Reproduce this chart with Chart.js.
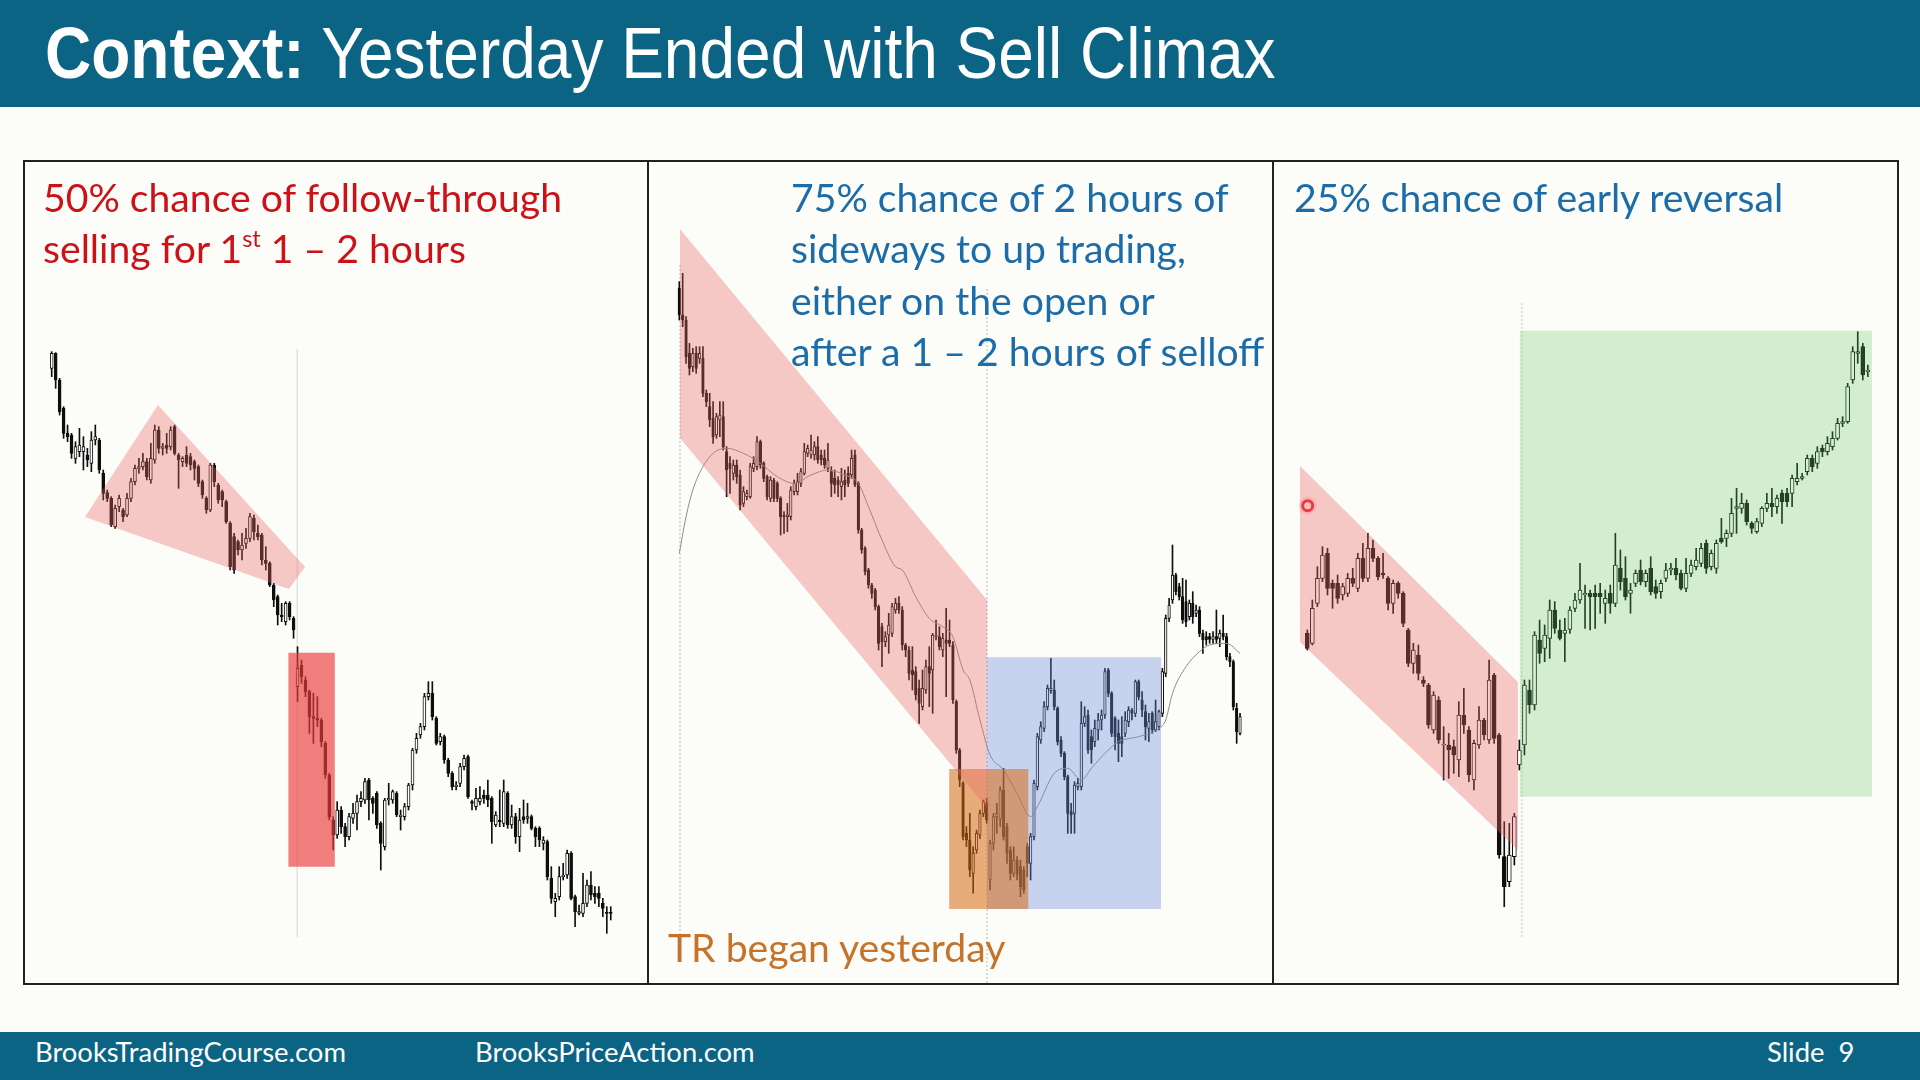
<!DOCTYPE html>
<html>
<head>
<meta charset="utf-8">
<script src="https://cdn.jsdelivr.net/npm/chart.js@4.4.1/dist/chart.umd.min.js"></script>
<style>
  html, body { margin:0; padding:0; }
  body { width:1920px; height:1080px; overflow:hidden; background:#fcfdf9; position:relative; }
  .band { position:absolute; left:0; width:1920px; background:#0c6485; }
  .txt { position:absolute; left:0; top:0; white-space:nowrap; transform-origin:0 0; line-height:1.2; }
  .title { font-family:'Liberation Sans', Arial, sans-serif; font-size:72px; color:#ffffff; }
  .body { font-family:Lato, 'Open Sans', sans-serif; font-size:39px; }
  .foot { font-family:Lato, 'Open Sans', sans-serif; font-size:26px; color:#ffffff; }
  .red { color:#cc1117; }
  .blue { color:#1b6ca8; }
  .orange { color:#c5732a; }
  .sup { font-size:0.6em; vertical-align:0.7em; }
  #frame { position:absolute; left:23px; top:160px; width:1876px; height:825px; box-sizing:border-box; border:2px solid #222; }
  .sep { position:absolute; top:160px; width:2px; height:825px; background:#222; }
  canvas { position:absolute; }
</style>
</head>
<body>
<div class="band" style="top:0;height:107px"></div>
<div class="band" style="top:1032px;height:48px"></div>
<div id="frame"></div>
<div class="sep" style="left:647px"></div>
<div class="sep" style="left:1272px"></div>
<canvas id="c1" width="622" height="821" style="left:25px;top:162px"></canvas>
<canvas id="c2" width="623" height="821" style="left:649px;top:162px"></canvas>
<canvas id="c3" width="623" height="821" style="left:1274px;top:162px"></canvas>

<div class="txt title" data-x="45" data-b="78" data-ref="1231"><b>Context:</b> Yesterday Ended with Sell Climax</div>

<div class="txt body red" data-x="43" data-b="212" data-ref="519">50% chance of follow-through</div>
<div class="txt body red" data-x="43" data-b="263">selling for 1<span class="sup">st</span> 1 – 2 hours</div>

<div class="txt body blue" data-x="791" data-b="212">75% chance of 2 hours of</div>
<div class="txt body blue" data-x="791" data-b="263">sideways to up trading,</div>
<div class="txt body blue" data-x="791" data-b="315">either on the open or</div>
<div class="txt body blue" data-x="791" data-b="366">after a 1 – 2 hours of selloff</div>

<div class="txt body blue" data-x="1294" data-b="212">25% chance of early reversal</div>

<div class="txt body orange" data-x="668" data-b="962">TR began yesterday</div>

<div class="txt foot" data-x="35" data-b="1062" data-ref="311">BrooksTradingCourse.com</div>
<div class="txt foot" data-x="475" data-b="1062">BrooksPriceAction.com</div>
<div class="txt foot" data-x="1767" data-b="1062">Slide&nbsp;&nbsp;9</div>

<script>
// ---------------- DATA (price units, bars indexed 0..n-1) ----------------
// Panel 1: [open, high, low, close]
const p1Ohlc = [
[2135,2185,2110,2180],[2180,2182,2075,2100],[2100,2105,1995,2005],[2015,2020,1925,1940],[1940,1965,1915,1930],
[1935,1940,1865,1880],[1865,1915,1850,1900],[1885,1955,1870,1905],[1885,1930,1830,1900],[1875,1895,1840,1860],
[1850,1945,1825,1920],[1920,1965,1905,1930],[1920,1925,1820,1830],[1820,1830,1740,1760],[1762,1770,1735,1745],
[1745,1750,1660,1665],[1660,1725,1655,1715],[1720,1755,1705,1745],[1710,1715,1675,1690],[1695,1760,1690,1745],
[1745,1805,1735,1795],[1795,1845,1785,1835],[1835,1865,1820,1840],[1840,1880,1830,1855],[1855,1865,1800,1810],
[1800,1910,1790,1865],[1860,1965,1850,1950],[1950,1960,1880,1895],[1895,1910,1875,1900],[1905,1940,1880,1895],
[1900,1960,1890,1950],[1960,1965,1875,1880],[1875,1880,1775,1860],[1855,1870,1840,1865],[1875,1900,1840,1850],
[1870,1880,1830,1845],[1855,1860,1800,1835],[1840,1845,1780,1790],[1795,1800,1745,1755],[1745,1750,1700,1710],
[1710,1850,1705,1845],[1845,1850,1780,1795],[1785,1790,1730,1740],[1765,1770,1720,1740],[1735,1740,1670,1675],
[1670,1675,1530,1540],[1630,1640,1520,1530],[1615,1620,1575,1590],[1590,1640,1560,1605],[1610,1655,1595,1625],
[1625,1700,1615,1690],[1685,1695,1620,1645],[1640,1665,1620,1630],[1635,1640,1545,1560],[1560,1600,1530,1550],
[1550,1555,1480,1485],[1485,1490,1420,1440],[1450,1455,1365,1395],[1395,1430,1375,1390],[1375,1435,1365,1430],
[1430,1435,1380,1390],[1385,1390,1325,1350],
[1180,1300,1135,1235],[1245,1260,1190,1210],[1200,1210,1150,1165],[1165,1170,1040,1090],[1090,1160,1010,1085],
[1085,1150,1060,1080],[1080,1085,1000,1015],[1010,1015,905,915],[915,920,780,790],[780,790,690,735],
[735,835,725,810],[810,820,740,760],[760,770,700,730],[730,800,720,790],[785,830,770,800],
[800,855,750,835],[835,865,820,845],[840,905,830,895],[900,905,780,840],[845,850,800,830],
[860,865,755,765],[770,775,630,710],[700,845,690,840],[840,890,825,845],[840,870,830,865],
[860,865,790,795],[790,810,750,795],[790,830,780,820],[820,890,810,885],[885,995,870,990],
[990,1040,980,1025],[1035,1070,1025,1060],[1060,1160,1050,1150],[1150,1195,1140,1160],[1160,1195,1080,1090],
[1085,1090,1005,1010],[1015,1040,1005,1030],[1030,1035,950,960],[960,965,910,920],[920,925,870,880],
[880,895,870,885],[890,950,880,940],[940,975,930,965],[970,975,845,850],[835,840,810,830],
[820,875,810,845],[835,880,825,845],[855,870,830,845],[855,900,820,840],[845,850,710,775],
[765,805,760,795],[780,870,760,775],[770,900,760,865],[860,865,755,765],[765,825,755,790],
[790,800,710,730],[730,815,685,780],[790,840,770,780],[785,830,770,790],[790,795,750,755],
[755,760,700,730],[755,760,700,720],[710,730,690,720],[715,720,600,610],[605,640,530,545],
[535,560,490,545],[550,640,540,610],[610,650,600,615],[615,690,605,680],[680,685,540,545],
[550,555,460,505],[500,525,495,505],[500,620,490,530],[530,600,520,585],[585,625,540,555],
[560,580,530,550],[560,580,520,545],[530,545,490,515],[502,520,440,500],[502,520,480,500]
];
// Panel 1 overlays (bar index, price)
const p1WedgeX = [8.4, 26.8, 63.9, 59.8];
const p1WedgeY = [1689, 2025, 1539, 1473];
const p1RedBox = [59.7, 71.4, 640, 1282];      // x0, x1, y0, y1
const p1DayLine = [61.9, 429, 2193];           // x, y0, y1

// Panel 2: [open, high, low, close]
const p2Ohlc = [
[2375,2395,2280,2295],[2295,2420,2260,2280],[2280,2290,2150,2170],[2180,2210,2115,2135],[2140,2195,2125,2180],
[2180,2200,2120,2135],[2165,2200,2150,2180],[2165,2200,2050,2060],[2060,2070,2020,2035],[2020,2060,1960,1980],
[1985,2035,1910,1930],[1935,2000,1925,1990],[1980,2035,1930,1995],[1990,2035,1890,1900],[1885,1900,1750,1830],
[1850,1870,1760,1835],[1820,1860,1800,1845],[1845,1860,1790,1810],[1815,1830,1710,1725],[1730,1780,1720,1765],
[1750,1770,1740,1760],[1750,1850,1745,1840],[1835,1870,1825,1850],[1840,1930,1830,1915],[1915,1920,1835,1845],
[1850,1855,1795,1805],[1810,1815,1740,1750],[1745,1810,1735,1800],[1800,1805,1735,1745],[1790,1795,1735,1745],
[1745,1750,1635,1690],[1695,1705,1640,1690],[1690,1730,1645,1695],[1690,1780,1680,1770],[1765,1800,1755,1790],
[1765,1820,1755,1795],[1790,1835,1780,1825],[1820,1910,1815,1885],[1880,1905,1870,1895],[1875,1935,1865,1890],
[1875,1915,1860,1900],[1900,1930,1850,1860],[1875,1890,1845,1860],[1865,1890,1835,1845],[1835,1910,1825,1860],
[1825,1840,1750,1790],[1805,1830,1760,1785],[1800,1810,1750,1785],[1780,1835,1740,1795],[1800,1830,1750,1785],
[1820,1840,1780,1790],[1815,1890,1805,1865],[1875,1890,1780,1785],[1790,1795,1640,1650],[1650,1655,1580,1590],
[1595,1600,1515,1525],[1530,1535,1475,1485],[1485,1490,1445,1460],[1470,1475,1410,1420],[1420,1425,1290,1310],
[1360,1370,1240,1315],[1315,1345,1300,1330],[1335,1400,1280,1365],[1340,1430,1330,1420],[1410,1445,1400,1430],
[1430,1450,1400,1410],[1410,1420,1290,1305],[1305,1310,1270,1290],[1290,1300,1200,1220],[1230,1300,1170,1215],
[1225,1240,1140,1155],[1175,1200,1070,1130],[1120,1230,1110,1175],[1170,1260,1160,1240],[1240,1300,1120,1220],
[1230,1340,1100,1335],[1330,1380,1320,1335],[1330,1360,1290,1300],[1290,1340,1270,1325],[1320,1415,1150,1310],
[1320,1380,1300,1310],[1305,1315,1130,1140],[1135,1140,980,990],[990,995,880,900],[890,895,720,730],
[740,760,700,720],[720,800,610,630],[620,700,560,680],[690,750,680,740],[735,810,725,800],
[800,840,790,835],[830,845,770,780],
[600,720,570,710],[710,800,690,790],[790,830,740,800],[785,880,760,870],[870,935,720,730],
[760,770,650,680],[690,700,600,620],[620,700,610,660],[660,670,600,615],[640,660,550,580],
[630,640,560,570],[700,710,610,650],[650,740,600,730],[730,900,720,890],[880,1040,870,1030],
[1020,1075,1010,1060],[1055,1135,1045,1120],[1120,1185,1110,1175],[1168,1265,1160,1175],[1170,1200,1110,1120],
[1115,1120,1005,1015],[1020,1030,970,980],[980,985,900,910],[910,915,740,800],[805,830,740,795],
[800,895,740,885],[880,905,870,890],[880,1135,870,1070],[1070,1120,1060,1090],[1095,1110,980,990],
[1030,1050,950,990],[1015,1080,1000,1055],[1050,1100,1020,1080],[1080,1110,1050,1095],[1095,1235,1085,1225],
[1230,1235,1150,1160],[1160,1165,1030,1040],[1085,1090,990,1030],[1040,1080,955,1010],[1030,1090,970,1010],
[1040,1105,1030,1080],[1075,1120,1060,1110],[1110,1115,1080,1100],[1100,1200,1090,1195],[1195,1200,1140,1150],
[1140,1165,1090,1110],[1105,1125,1020,1060],[1055,1100,1015,1075],[1100,1105,1040,1050],[1050,1140,1045,1075],
[1060,1110,1050,1105],[1100,1235,1090,1225],[1220,1395,1210,1385],[1385,1445,1375,1425],[1440,1605,1430,1515],
[1515,1520,1455,1465],[1480,1490,1440,1450],[1450,1505,1370,1380],[1435,1500,1360,1375],[1390,1440,1380,1430],
[1430,1465,1370,1390],[1400,1425,1390,1410],[1410,1420,1330,1340],[1340,1350,1280,1320],[1330,1345,1305,1320],
[1330,1340,1310,1322],[1322,1345,1310,1330],[1330,1410,1310,1322],[1325,1350,1300,1340],[1340,1395,1320,1330],
[1330,1340,1260,1270],[1270,1280,1240,1255],[1255,1260,1110,1120],[1115,1130,1010,1045],[1040,1100,1035,1090]
];
// Panel 2 moving average (bar index, value)
const p2MaIdx = [0,2,4,7,10,14,19,24,29,34,39,44,49,53,56,60,64,66,70,74,78,81,84,86,89,92,96,100,104,106,111,115,119,122,126,130,136,142,144,146,150,154,157,162,166];
const p2MaVal = [1580,1690,1770,1840,1880,1895,1880,1850,1810,1790,1815,1830,1815,1790,1720,1620,1540,1530,1450,1385,1360,1330,1230,1200,1080,975,930,860,790,820,920,935,900,935,980,1015,1030,1055,1080,1160,1240,1285,1305,1310,1280];
// Panel 2 overlays
const p2ChannelX = [0.2, 91.1, 91.1, 0.2];
const p2ChannelY = [2553, 1440, 816, 1926];
const p2OrangeBox = [79.9, 103.3, 513, 933];
const p2BlueBox = [91.1, 142.6, 513, 1268];
const p2DotLineA = [0.2, 411, 2450];
const p2DotLineB = [91.1, 291, 2376];

// Panel 3: [open, high, low, close]
const p3Ohlc = [
[1340,1350,1290,1295],[1310,1440,1305,1415],[1430,1540,1420,1505],[1505,1600,1495,1575],[1580,1595,1455,1475],
[1490,1500,1415,1475],[1490,1515,1430,1445],[1455,1490,1440,1480],[1460,1520,1450,1505],[1505,1535,1480,1490],
[1475,1580,1465,1565],[1565,1610,1495,1505],[1505,1640,1495,1595],[1595,1620,1555,1565],[1565,1570,1500,1510],
[1520,1580,1505,1515],[1505,1510,1410,1430],[1430,1500,1400,1490],[1490,1495,1445,1460],[1460,1465,1360,1370],
[1350,1355,1240,1250],[1250,1310,1220,1290],[1275,1305,1200,1220],[1200,1210,1180,1190],[1185,1190,1055,1065],
[1050,1165,1040,1155],[1140,1150,1010,1020],[1005,1060,900,1007],[1005,1040,905,990],[1000,1020,920,975],
[960,1135,910,1095],[1095,1175,1040,1065],[1050,1060,895,915],[900,1020,870,1010],[1005,1120,995,1080],
[1080,1085,1020,1035],[1020,1260,1010,1200],[1215,1220,1010,1025],[1035,1040,665,675],[670,775,520,580],
[595,770,580,675],[670,800,645,790],
[945,1020,930,990],[1005,1200,975,1185],[1170,1200,1100,1125],[1125,1345,1110,1335],[1320,1380,1250,1280],
[1295,1365,1255,1335],[1325,1440,1265,1410],[1410,1435,1340,1355],[1350,1380,1320,1325],[1340,1385,1255,1350],
[1352,1420,1340,1410],[1415,1460,1405,1440],
[1440,1550,1430,1470],[1455,1485,1355,1460],[1460,1470,1350,1450],[1460,1485,1355,1450],[1460,1490,1400,1450],
[1430,1470,1370,1445],[1460,1485,1400,1430],[1430,1640,1420,1545],[1535,1590,1470,1495],[1505,1570,1440,1450],
[1460,1490,1400,1470],[1490,1530,1480,1520],[1530,1560,1485,1495],[1495,1530,1480,1520],[1535,1570,1455,1465],
[1480,1500,1445,1460],[1465,1500,1445,1490],[1505,1550,1495,1530],[1530,1550,1515,1535],[1535,1565,1500,1515],
[1520,1530,1470,1475],[1475,1565,1465,1520],[1520,1560,1510,1545],[1540,1595,1530,1560],[1550,1610,1540,1595],
[1610,1620,1520,1535],[1540,1590,1530,1580],[1535,1620,1520,1610],[1625,1685,1610,1615],[1625,1650,1600,1640],
[1640,1745,1630,1700],[1715,1775,1640,1720],[1715,1760,1700,1730],[1730,1740,1665,1675],[1670,1675,1640,1655],
[1645,1685,1640,1675],[1670,1720,1660,1715],[1715,1760,1705,1730],[1730,1775,1690,1720],[1720,1755,1700,1745],
[1760,1770,1670,1735],[1760,1775,1720,1735],[1760,1815,1720,1805],[1795,1850,1785,1805],[1805,1820,1800,1810],
[1825,1875,1815,1865],[1865,1875,1825,1840],[1850,1900,1835,1885],[1895,1905,1870,1885],[1885,1930,1875,1910],
[1900,1945,1890,1925],[1925,1985,1920,1970],[1970,1990,1960,1975],[1975,2090,1970,2080],[2100,2200,2090,2185],
[2180,2245,2150,2185],[2200,2210,2100,2115],[2125,2145,2110,2130]
];
// Panel 3 overlays
const p3ChannelX = [-1.45, 41.7, 41.7, -1.45];
const p3ChannelY = [1842, 1194, 690, 1314];
const p3GreenBox = [42.1, 111.8, 850, 2248];
const p3DotLine = [42.5, 429, 2331];
const p3Cursor = [0.07, 1723];

// ---------------- LAYOUT (pixel geometry of each panel) ----------------
const Y_MIN = 291, Y_MAX = 2754;                // value range spanned by canvas height
const panels = {
  c1: { left: 25,   width: 622, firstBar: 51.7,   step: 3.965, body: 3 },
  c2: { left: 649,  width: 623, firstBar: 679.3,  step: 3.378, body: 2.6 },
  c3: { left: 1274, width: 623, firstBar: 1307.3, step: 5.05,  body: 4 }
};

const INK = '#0e0e0e';
const PINK = 'rgba(235,100,100,0.35)';
const RED = 'rgba(235,60,60,0.66)';
const BLUE = 'rgba(110,140,220,0.38)';
const ORANGE = 'rgba(215,105,20,0.55)';
const GREEN = 'rgba(100,200,100,0.28)';

function candles(ohlc, bodyW) {
  return [
    { type:'bar', data: ohlc.map((d,i)=>({x:i, y:[d[2], d[1]]})), backgroundColor: INK,
      borderWidth:0, barThickness:1, grouped:false, order:6 },
    { type:'bar', data: ohlc.map((d,i)=>({x:i, y:[d[0], d[3]]})),
      backgroundColor: ohlc.map(d => d[3] >= d[0] ? '#ffffff' : INK),
      borderColor: INK, borderWidth:1, borderSkipped:false, barThickness:bodyW,
      grouped:false, minBarLength:1, order:5 }
  ];
}
function poly(xs, ys, color, order) {
  return { type:'line', data: xs.map((x,i)=>({x:x, y:ys[i]})), fill:'shape',
    backgroundColor: color, borderColor:'rgba(0,0,0,0)', borderWidth:0,
    pointRadius:0, tension:0, order: order };
}
function box(b, color, order) {
  return poly([b[0], b[1], b[1], b[0]], [b[3], b[3], b[2], b[2]], color, order);
}
function vline(v, color, dash) {
  return { type:'line', data:[{x:v[0], y:v[1]}, {x:v[0], y:v[2]}], borderColor: color,
    borderWidth:1, borderDash: dash || [], pointRadius:0, fill:false, order:7 };
}

function makeChart(id, datasets) {
  const p = panels[id];
  const xMin = (p.left - p.firstBar) / p.step;
  const xMax = (p.left + p.width - p.firstBar) / p.step;
  return new Chart(document.getElementById(id), {
    type:'bar',
    data:{ datasets: datasets },
    options:{
      responsive:false, animation:false, devicePixelRatio:1, events:[],
      layout:{ padding:0, autoPadding:false },
      plugins:{ legend:{display:false}, tooltip:{enabled:false} },
      scales:{
        x:{ type:'linear', display:false, min:xMin, max:xMax, offset:false },
        y:{ type:'linear', display:false, min:Y_MIN, max:Y_MAX }
      }
    }
  });
}

// Panel 1
makeChart('c1', [
  vline(p1DayLine, '#d6d6d6'),
  ...candles(p1Ohlc, panels.c1.body),
  poly(p1WedgeX, p1WedgeY, PINK, 1),
  box(p1RedBox, RED, 1)
]);

// Panel 2
makeChart('c2', [
  vline(p2DotLineA, '#b5b5b5', [2,2]),
  vline(p2DotLineB, '#b5b5b5', [2,2]),
  ...candles(p2Ohlc, panels.c2.body),
  { type:'line', data: p2MaIdx.map((x,i)=>({x:x, y:p2MaVal[i]})), borderColor:'#8c8c8c',
    borderWidth:1, pointRadius:0, fill:false, cubicInterpolationMode:'monotone', order:3 },
  box(p2BlueBox, BLUE, 2),
  box(p2OrangeBox, ORANGE, 1),
  poly(p2ChannelX, p2ChannelY, PINK, 0)
]);

// Panel 3
makeChart('c3', [
  vline(p3DotLine, '#c8c8c8', [2,2]),
  ...candles(p3Ohlc, panels.c3.body),
  poly(p3ChannelX, p3ChannelY, PINK, 1),
  box(p3GreenBox, GREEN, 1),
  { type:'line', data:[{x:p3Cursor[0], y:p3Cursor[1]}], showLine:false, pointRadius:9,
    pointBorderWidth:0, pointBackgroundColor:'rgba(255,120,120,0.25)', order:0 },
  { type:'line', data:[{x:p3Cursor[0], y:p3Cursor[1]}], showLine:false, pointRadius:5,
    pointBorderWidth:3, pointBorderColor:'#e22a2e', pointBackgroundColor:'#ffd9d9', order:0 }
]);

// ---------------- TEXT PLACEMENT ----------------
function fitGroup(sel) {
  const els = Array.from(document.querySelectorAll(sel));
  const ref = els.find(e => e.dataset.ref);
  const k = parseFloat(ref.dataset.ref) / ref.offsetWidth;
  els.forEach(e => {
    e.style.left = e.dataset.x + 'px';
    const m = document.createElement('span');
    m.style.cssText = 'display:inline-block;width:0;height:0;vertical-align:baseline;';
    e.appendChild(m);
    e.style.top = (parseFloat(e.dataset.b) - m.offsetTop) + 'px';
    e.style.transform = 'scaleX(' + k.toFixed(4) + ')';
  });
}
function layoutText() { fitGroup('.title'); fitGroup('.body'); fitGroup('.foot'); }
if (document.fonts && document.fonts.ready) { document.fonts.ready.then(layoutText); } else { layoutText(); }
</script>
</body>
</html>
